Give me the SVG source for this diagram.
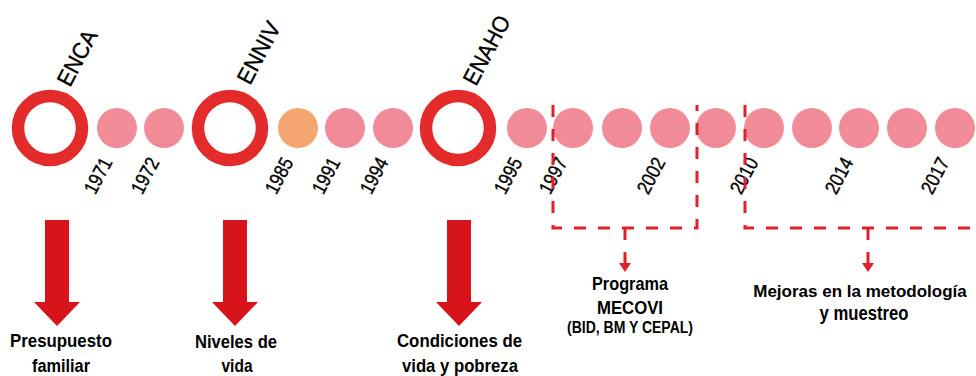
<svg xmlns="http://www.w3.org/2000/svg" width="976" height="376" viewBox="0 0 976 376">
<style>
.ring{fill:#fff;stroke:#E32B2B;stroke-width:12.5}
.dot{fill:#F28B98}
.dot2{fill:#F5A66E}
.yr{font-family:"Liberation Sans",Arial,sans-serif;font-size:20px;fill:#000;stroke:#000;stroke-width:0.35;text-anchor:end}
.sv{font-family:"Liberation Sans",Arial,sans-serif;font-size:23px;fill:#000;stroke:#000;stroke-width:0.35}
.lb{font-family:"Liberation Sans",Arial,sans-serif;font-size:19px;font-weight:bold;fill:#000;text-anchor:middle}
.dash{fill:none;stroke:#E0202A;stroke-width:3;stroke-dasharray:12 12}
.big{fill:#D7141A}
.ah{fill:#E0202A}
</style>
<defs>
<path id="bigArrow" d="M-12,0 H12 V82 H23 L0,106 L-23,82 H-12 Z"/>
</defs>
<rect width="976" height="376" fill="#fff"/>
<g id="timeline">
<circle class="dot" cx="117" cy="128" r="20"/>
<circle class="dot" cx="164" cy="128" r="20"/>
<circle class="dot2" cx="298" cy="128" r="20"/>
<circle class="dot" cx="345" cy="128" r="20"/>
<circle class="dot" cx="393" cy="128" r="20"/>
<circle class="dot" cx="527" cy="128" r="20"/>
<circle class="dot" cx="573" cy="128" r="20"/>
<circle class="dot" cx="622" cy="128" r="20"/>
<circle class="dot" cx="670" cy="128" r="20"/>
<circle class="dot" cx="716" cy="128" r="20"/>
<circle class="dot" cx="764" cy="128" r="20"/>
<circle class="dot" cx="812" cy="128" r="20"/>
<circle class="dot" cx="859" cy="128" r="20"/>
<circle class="dot" cx="907" cy="128" r="20"/>
<circle class="dot" cx="955" cy="128" r="20"/>
</g>
<g id="years">
<text class="yr" transform="translate(113,162) rotate(-62)" textLength="38" lengthAdjust="spacingAndGlyphs">1971</text>
<text class="yr" transform="translate(160,162) rotate(-62)" textLength="38" lengthAdjust="spacingAndGlyphs">1972</text>
<text class="yr" transform="translate(294,162) rotate(-62)" textLength="38" lengthAdjust="spacingAndGlyphs">1985</text>
<text class="yr" transform="translate(341,162) rotate(-62)" textLength="38" lengthAdjust="spacingAndGlyphs">1991</text>
<text class="yr" transform="translate(389,162) rotate(-62)" textLength="38" lengthAdjust="spacingAndGlyphs">1994</text>
<text class="yr" transform="translate(523,162) rotate(-62)" textLength="38" lengthAdjust="spacingAndGlyphs">1995</text>
<text class="yr" transform="translate(568,162) rotate(-62)" textLength="38" lengthAdjust="spacingAndGlyphs">1997</text>
<text class="yr" transform="translate(666,162) rotate(-62)" textLength="38" lengthAdjust="spacingAndGlyphs">2002</text>
<text class="yr" transform="translate(759,162) rotate(-62)" textLength="38" lengthAdjust="spacingAndGlyphs">2010</text>
<text class="yr" transform="translate(854,162) rotate(-62)" textLength="38" lengthAdjust="spacingAndGlyphs">2014</text>
<text class="yr" transform="translate(950,162) rotate(-62)" textLength="38" lengthAdjust="spacingAndGlyphs">2017</text>
</g>
<g id="enca">
<circle class="ring" cx="50" cy="128" r="32"/>
<text class="sv" transform="translate(70,88) rotate(-62)" textLength="60" lengthAdjust="spacingAndGlyphs">ENCA</text>
</g>
<g id="enniv">
<circle class="ring" cx="230" cy="128" r="32"/>
<text class="sv" transform="translate(250,86) rotate(-62)" textLength="67" lengthAdjust="spacingAndGlyphs">ENNIV</text>
</g>
<g id="enaho">
<circle class="ring" cx="458" cy="128" r="32"/>
<text class="sv" transform="translate(476,87) rotate(-62)" textLength="75" lengthAdjust="spacingAndGlyphs">ENAHO</text>
</g>
<g id="connectors">
<path class="dash" d="M553,105 V228 H697 V105"/>
<path class="dash" d="M625,228 V264"/>
<polygon class="ah" points="619,263 631,263 625,272"/>
<path class="dash" d="M745,105 V228 H976"/>
<path class="dash" d="M868,228 V264"/>
<polygon class="ah" points="862,263 874,263 868,272"/>
<use href="#bigArrow" class="big" x="57" y="220"/>
<use href="#bigArrow" class="big" x="235" y="220"/>
<use href="#bigArrow" class="big" x="459" y="220"/>
</g>
<g id="presupuesto">
<text class="lb" x="61" y="347" textLength="102" lengthAdjust="spacingAndGlyphs">Presupuesto</text>
<text class="lb" x="61" y="372" textLength="58" lengthAdjust="spacingAndGlyphs">familiar</text>
</g>
<g id="niveles">
<text class="lb" x="236" y="348" textLength="82" lengthAdjust="spacingAndGlyphs">Niveles de</text>
<text class="lb" x="237" y="372" textLength="31" lengthAdjust="spacingAndGlyphs">vida</text>
</g>
<g id="condiciones">
<text class="lb" x="459.5" y="347" textLength="125" lengthAdjust="spacingAndGlyphs">Condiciones de</text>
<text class="lb" x="460" y="372" textLength="116" lengthAdjust="spacingAndGlyphs">vida y pobreza</text>
</g>
<g id="mecovi">
<text class="lb" x="630" y="290" textLength="76" lengthAdjust="spacingAndGlyphs">Programa</text>
<text class="lb" x="630" y="314" textLength="66" lengthAdjust="spacingAndGlyphs">MECOVI</text>
<text class="lb" x="630" y="333" style="font-size:16px" textLength="126" lengthAdjust="spacingAndGlyphs">(BID, BM Y CEPAL)</text>
</g>
<g id="mejoras">
<text class="lb" x="860" y="297" style="font-size:17px">Mejoras en la metodología</text>
<text class="lb" x="864" y="320" style="font-size:20px" textLength="89" lengthAdjust="spacingAndGlyphs">y muestreo</text>
</g>
</svg>
